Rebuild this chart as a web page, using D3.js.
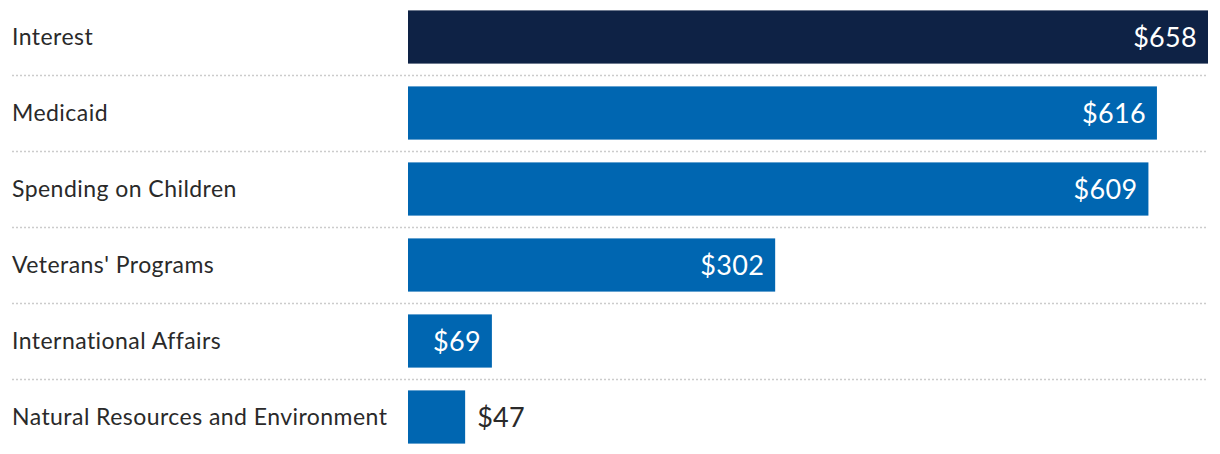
<!DOCTYPE html>
<html><head><meta charset="utf-8">
<script src="https://cdn.jsdelivr.net/npm/d3@7"></script>
<style>body{margin:0;background:#fff;}svg{display:block;font-family:Lato,sans-serif;}</style>
</head><body><svg id="c" width="1220" height="454"></svg>
<script>
const categories = ["Interest","Medicaid","Spending on Children","Veterans' Programs","International Affairs","Natural Resources and Environment"];
const values = [658,616,609,302,69,47];
const highlight = ["Interest"];

const svg = d3.select("#c");
const x = d3.scaleLinear().domain([0,658]).range([408,1208]);
const y = d3.scaleBand().domain(categories).range([-1,455]).paddingInner(0.3).paddingOuter(0.15);
const step = y.step();

// separators
svg.selectAll("line.sep").data(categories.slice(1)).join("line")
  .attr("x1",12).attr("x2",1208)
  .attr("y1",d=>Math.round(y(d)-(step-y.bandwidth())/2)+0.5)
  .attr("y2",d=>Math.round(y(d)-(step-y.bandwidth())/2)+0.5)
  .attr("stroke","#cccccc").attr("stroke-width",1.3).attr("stroke-dasharray","2,2");

svg.selectAll("text.lab").data(categories).join("text")
  .attr("x",12).attr("y",d=>y(d)+y.bandwidth()/2).attr("dy","0.33em")
  .attr("font-size",23).attr("letter-spacing","0.45px").attr("fill","#2a2a2a").text(d=>d);

svg.selectAll("rect.bar").data(values).join("rect")
  .attr("x",x(0)).attr("y",(d,i)=>y(categories[i]))
  .attr("width",d=>x(d)-x(0)).attr("height",y.bandwidth())
  .attr("fill",(d,i)=>highlight.includes(categories[i])?"#0e2245":"#0066b1");

svg.selectAll("text.val").data(values).join("text")
  .attr("y",(d,i)=>y(categories[i])+y.bandwidth()/2).attr("dy","0.36em")
  .attr("font-size",27).attr("letter-spacing","0.3px")
  .each(function(d){
    const inside = x(d)-x(0) > 70;
    d3.select(this).attr("x", inside ? x(d)-11 : x(d)+12)
      .attr("text-anchor", inside ? "end" : "start")
      .attr("fill", inside ? "#fff" : "#2a2a2a");
  })
  .text(d=>"$"+d);
</script></body></html>
